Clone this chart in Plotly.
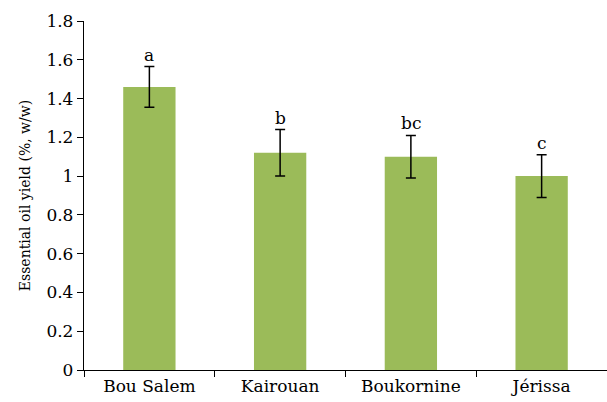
import plotly.graph_objects as go

# Essential oil yield by provenance
regions = ["Bou Salem", "Kairouan", "Boukornine", "Jérissa"]
yields = [1.46, 1.12, 1.10, 1.00]
errors = [0.105, 0.12, 0.11, 0.11]
groups = ["a", "b", "bc", "c"]
y_ticks = [0, 0.2, 0.4, 0.6, 0.8, 1.0, 1.2, 1.4, 1.6, 1.8]
y_tick_text = ["0", "0.2", "0.4", "0.6", "0.8", "1", "1.2", "1.4", "1.6", "1.8"]

FONT = "DejaVu Serif"

fig = go.Figure(
    go.Bar(
        x=regions,
        y=yields,
        width=0.4,
        marker=dict(color="#9BBB59", line=dict(width=0)),
        error_y=dict(type="data", array=errors, visible=True,
                     color="black", thickness=1.5, width=5),
    )
)

# significance letters above each error bar
for r, v, e, g in zip(regions, yields, errors, groups):
    fig.add_annotation(x=r, y=v + e, text=g, showarrow=False,
                       yanchor="bottom", yshift=0,
                       font=dict(family=FONT, size=17, color="black"))

fig.update_layout(
    width=607, height=402,
    margin=dict(l=84, r=0, t=21, b=32),
    plot_bgcolor="white", paper_bgcolor="white",
    showlegend=False,
    font=dict(family=FONT, size=17, color="black"),
    xaxis=dict(
        showline=True, linecolor="black", linewidth=1.3,
        ticks="outside", tickson="boundaries", ticklen=6,
        tickcolor="black", tickwidth=1.3,
        showgrid=False,
        tickfont=dict(family=FONT, size=17),
    ),
    yaxis=dict(
        range=[0, 1.8],
        tickvals=y_ticks, ticktext=y_tick_text,
        showline=True, linecolor="black", linewidth=1.3,
        ticks="outside", ticklen=6, tickcolor="black", tickwidth=1.3,
        showgrid=False, zeroline=False,
        tickfont=dict(family=FONT, size=17),
        title=dict(text="Essential oil yield (%, w/w)",
                   font=dict(family=FONT, size=14), standoff=12),
    ),
)

fig.write_html("out.html")
